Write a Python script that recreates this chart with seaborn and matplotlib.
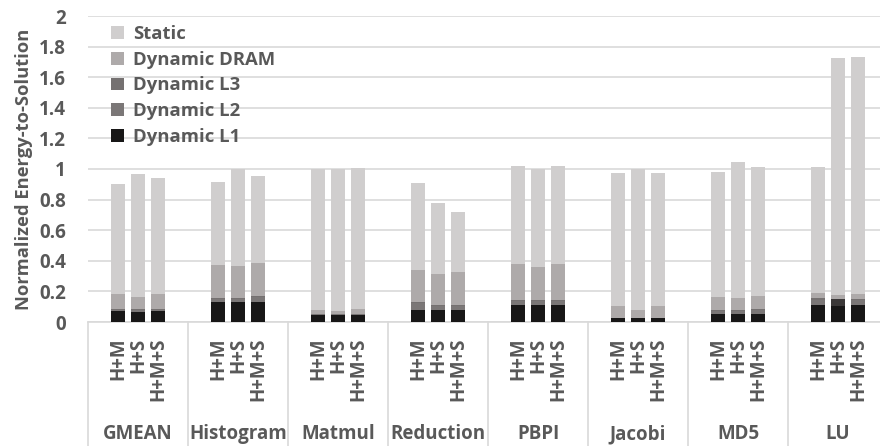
import numpy as np
import pandas as pd
import matplotlib
matplotlib.use("Agg")
import matplotlib.pyplot as plt
import matplotlib.transforms as mtransforms
from matplotlib.patches import Patch
import seaborn as sns

# ---------------- data ----------------
benchmarks = ["GMEAN", "Histogram", "Matmul", "Reduction", "PBPI", "Jacobi", "MD5", "LU"]
configs = ["H+M", "H+S", "H+M+S"]
layers = ["Dynamic L1", "Dynamic L2", "Dynamic L3", "Dynamic DRAM", "Static"]

dyn_l1 = [0.070, 0.068, 0.070,  0.129, 0.129, 0.129,  0.045, 0.045, 0.045,
          0.081, 0.081, 0.081,  0.113, 0.113, 0.113,  0.024, 0.024, 0.024,
          0.050, 0.050, 0.050,  0.112, 0.104, 0.112]
dyn_l2 = [0.010, 0.010, 0.010,  0.020, 0.020, 0.032,  0.005, 0.005, 0.005,
          0.040, 0.026, 0.026,  0.027, 0.027, 0.027,  0.003, 0.003, 0.003,
          0.025, 0.025, 0.029,  0.035, 0.044, 0.035]
dyn_l3 = [0.005, 0.004, 0.004,  0.006, 0.006, 0.007,  0.002, 0.002, 0.002,
          0.008, 0.006, 0.006,  0.006, 0.006, 0.006,  0.002, 0.002, 0.002,
          0.005, 0.005, 0.006,  0.008, 0.004, 0.006]
dyn_dram = [0.096, 0.082, 0.097,  0.220, 0.214, 0.220,  0.029, 0.022, 0.030,
            0.213, 0.203, 0.216,  0.236, 0.216, 0.236,  0.078, 0.052, 0.078,
            0.083, 0.079, 0.082,  0.036, 0.026, 0.032]
static = [0.724, 0.804, 0.757,  0.541, 0.631, 0.565,  0.919, 0.926, 0.925,
          0.567, 0.465, 0.389,  0.638, 0.637, 0.638,  0.864, 0.919, 0.864,
          0.817, 0.884, 0.846,  0.822, 1.546, 1.550]

yticks = [0, 0.2, 0.4, 0.6, 0.8, 1, 1.2, 1.4, 1.6, 1.8, 2]
ytick_labels = ["0", "0.2", "0.4", "0.6", "0.8", "1", "1.2", "1.4", "1.6", "1.8", "2"]

# ---------------- style ----------------
sns.set_theme(style="white")
plt.rcParams["font.family"] = ["Open Sans", "DejaVu Sans"]
plt.rcParams["font.weight"] = "bold"
TXT = "#595959"
GRID = "#D9D9D9"
colors = {"Static": "#D0CECE", "Dynamic DRAM": "#AEAAAA", "Dynamic L3": "#757171",
          "Dynamic L2": "#7B7777", "Dynamic L1": "#181717"}

# positions: 5 slots per group, bars in slots 1..3
rows = []
for gi, b in enumerate(benchmarks):
    for ci, c in enumerate(configs):
        rows.append({"bench": b, "config": c, "pos": gi * 5 + 1 + ci + 0.5})
df = pd.DataFrame(rows)
vals = {"Dynamic L1": dyn_l1, "Dynamic L2": dyn_l2, "Dynamic L3": dyn_l3,
        "Dynamic DRAM": dyn_dram, "Static": static}
cum = np.zeros(len(df))
for L in layers:
    cum = cum + np.array(vals[L])
    df[L] = cum.copy()

fig = plt.figure(figsize=(8.8, 4.46), dpi=100)
ax = fig.add_axes([88 / 880, 124 / 446, 800 / 880, 306 / 446])

for L in reversed(layers):
    n_before = len(ax.patches)
    sns.barplot(data=df, x="pos", y=L, native_scale=True, color=colors[L],
                width=0.675, errorbar=None, linewidth=0, saturation=1, ax=ax,
                zorder=3)
    if L == "Dynamic L2":
        # LU H+S L2 segment is drawn darker in the original
        for p in ax.patches[n_before:]:
            if abs(p.get_x() + p.get_width() / 2 - df["pos"].iloc[22]) < 0.01:
                p.set_facecolor("#3B3838")

ax.set_xlim(0, 40)
ax.set_ylim(0, 2)
ax.set_yticks(yticks)
ax.set_yticklabels(ytick_labels, fontsize=13.5, color=TXT, fontweight="bold")
ax.yaxis.grid(True, color=GRID, linewidth=1.2, zorder=0)
ax.set_axisbelow(True)
ax.tick_params(axis="y", length=0, pad=16)
ax.set_ylabel("Normalized Energy-to-Solution", fontsize=13.2, color=TXT,
              fontweight="bold", labelpad=4)

ax.set_xticks(df["pos"])
ax.set_xticklabels(df["config"], rotation=90, va="top", ha="center",
                   fontsize=13.5, color=TXT, fontweight="bold")
ax.tick_params(axis="x", length=0, pad=11)
ax.set_xlabel("")

for s in ["left", "right", "top"]:
    ax.spines[s].set_visible(False)
ax.spines["bottom"].set_color(GRID)
ax.spines["bottom"].set_linewidth(1.2)

trans = mtransforms.blended_transform_factory(ax.transData, ax.transAxes)
for gi in range(len(benchmarks) + 1):
    ax.plot([gi * 5, gi * 5], [0, -124 / 306], transform=trans, color=GRID,
            linewidth=1.2, clip_on=False)
for gi, b in enumerate(benchmarks):
    ax.text(gi * 5 + 2.5, -(434 - 322) / 306, b, transform=trans, ha="center",
            va="center", fontsize=13.5, color=TXT, fontweight="bold")

handles = [Patch(facecolor=colors[L], edgecolor="none") for L in reversed(layers)]
leg = ax.legend(handles, list(reversed(layers)), loc="upper left",
                bbox_to_anchor=(0.02, 0.995), frameon=False, fontsize=13.3,
                handlelength=0.7, handleheight=0.7, handletextpad=0.45,
                labelspacing=0.42, borderaxespad=0)
for t in leg.get_texts():
    t.set_color(TXT)
    t.set_fontweight("bold")

fig.savefig("out.png", dpi=100)
